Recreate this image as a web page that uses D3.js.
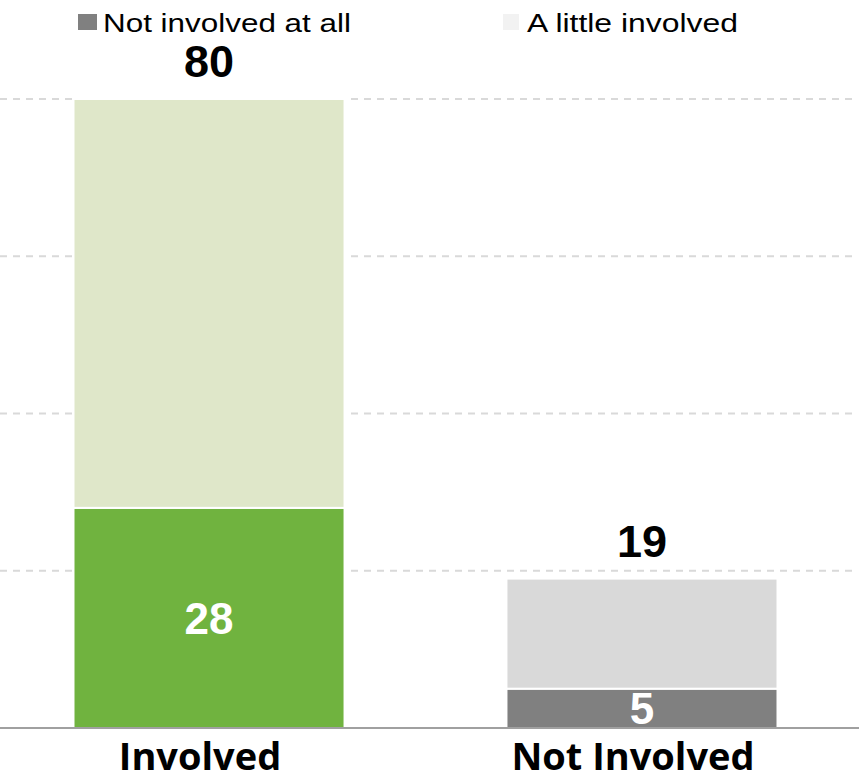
<!DOCTYPE html>
<html>
<head>
<meta charset="utf-8">
<script src="https://cdn.jsdelivr.net/npm/d3@7"></script>
<style>
  html, body { margin: 0; padding: 0; background: #fff; }
  svg { display: block; }
</style>
</head>
<body>
<div id="chart"></div>
<script>
// data
const categories = ["Involved", "Not Involved"];
const baseValues = [28, 5];      // bottom segment
const totalValues = [80, 19];    // bar total
const gridTicks = [20, 40, 60, 80];
const legendLabels = ["Not involved at all", "A little involved"];

// styles
const baseColors = ["#70b33f", "#808080"];
const topColors = ["#dfe7c9", "#d9d9d9"];
const legendColors = ["#808080", "#f2f2f2"];

const width = 866, height = 779;

const svg = d3.select("#chart").append("svg")
  .attr("width", width)
  .attr("height", height);

const x = d3.scaleBand()
  .domain(categories)
  .range([-4, 855])
  .paddingInner(0.374)
  .paddingOuter(0.179);

const y = d3.scaleLinear()
  .domain([0, 80])
  .range([728, 99]);

// gridlines
svg.append("g")
  .selectAll("line")
  .data(gridTicks)
  .join("line")
  .attr("x1", 0)
  .attr("x2", 853)
  .attr("y1", d => y(d))
  .attr("y2", d => y(d))
  .attr("stroke", "#d9d9d9")
  .attr("stroke-width", 2)
  .attr("stroke-dasharray", "7,6");

// stacked bars
const rows = categories.map((c, i) => ({ cat: c, base: baseValues[i], rest: totalValues[i] - baseValues[i] }));
const stacked = d3.stack().keys(["base", "rest"])(rows);

stacked.forEach((layer, li) => {
  svg.append("g")
    .selectAll("rect")
    .data(layer)
    .join("rect")
    .attr("x", d => x(d.data.cat))
    .attr("width", x.bandwidth())
    .attr("y", d => y(d[1]))
    .attr("height", d => y(d[0]) - y(d[1]))
    .attr("fill", (d, i) => li === 0 ? baseColors[i] : topColors[i])
    .attr("stroke", "#fff")
    .attr("stroke-width", 2);
});

// baseline
svg.append("line")
  .attr("x1", 0)
  .attr("x2", 859)
  .attr("y1", y(0))
  .attr("y2", y(0))
  .attr("stroke", "#a0a0a0")
  .attr("stroke-width", 2);

// value labels inside bottom segment
svg.append("g")
  .selectAll("text")
  .data(rows)
  .join("text")
  .attr("x", d => x(d.cat) + x.bandwidth() / 2)
  .attr("y", d => (y(0) + y(d.base)) / 2 + 16)
  .attr("text-anchor", "middle")
  .attr("fill", "#fff")
  .style("font-family", "'Liberation Sans', Arial, sans-serif")
  .style("font-weight", "bold")
  .style("font-size", "44px")
  .text(d => d.base);

// total labels above bars
svg.append("g")
  .selectAll("text")
  .data(rows)
  .join("text")
  .attr("x", d => x(d.cat) + x.bandwidth() / 2)
  .attr("y", d => y(d.base + d.rest) - 22)
  .attr("text-anchor", "middle")
  .attr("fill", "#000")
  .style("font-family", "'Liberation Sans', Arial, sans-serif")
  .style("font-weight", "bold")
  .style("font-size", "45px")
  .text(d => d.base + d.rest);

// category labels
svg.append("g")
  .selectAll("text")
  .data(categories)
  .join("text")
  .attr("x", d => x(d) + x.bandwidth() / 2 - 9)
  .attr("y", 770)
  .attr("text-anchor", "middle")
  .attr("fill", "#000")
  .style("font-family", "'Open Sans', sans-serif")
  .style("font-weight", "bold")
  .style("font-size", "38px")
  .text(d => d);

// legend
const legendX = [78, 503];
const legendW = [248, 211];
const legend = svg.append("g")
  .selectAll("g")
  .data(legendLabels)
  .join("g")
  .attr("transform", (d, i) => `translate(${legendX[i]},0)`);

legend.append("rect")
  .attr("x", 0)
  .attr("y", 14)
  .attr("width", (d, i) => i === 0 ? 19 : 16)
  .attr("height", 16)
  .attr("fill", (d, i) => legendColors[i]);

legend.append("text")
  .attr("x", (d, i) => i === 0 ? 25 : 24)
  .attr("y", 32)
  .attr("textLength", (d, i) => legendW[i])
  .attr("lengthAdjust", "spacingAndGlyphs")
  .attr("fill", "#000")
  .style("font-family", "'Liberation Sans', Arial, sans-serif")
  .style("font-size", "26px")
  .text(d => d);
</script>
</body>
</html>
